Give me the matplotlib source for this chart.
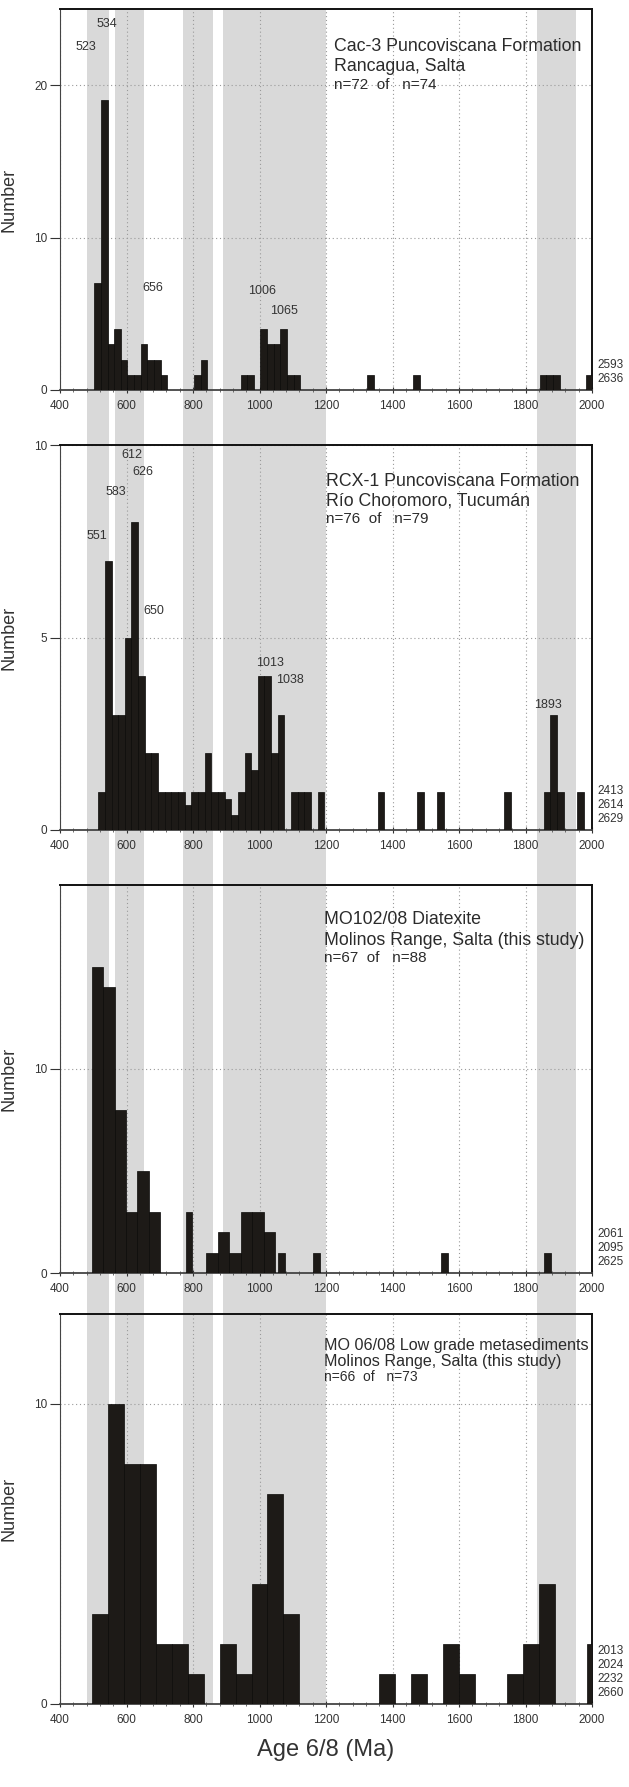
import numpy as np
import matplotlib
matplotlib.use("Agg")
import matplotlib.pyplot as plt
from matplotlib.ticker import MultipleLocator

plt.rcParams['font.family'] = ['Liberation Sans', 'DejaVu Sans']

# age bands shaded across all panels (Ma)
bands = [(482, 547), (564, 654), (769, 859), (890, 1199), (1836, 1951)]

# Cac-3 (bin width 20)
p1_left = [503, 523, 543, 563, 583, 603, 623, 643, 663, 683, 703, 803, 823, 943, 963,
           1003, 1023, 1043, 1063, 1083, 1103, 1323, 1463, 1843, 1863, 1883, 1983]
p1_count = [7, 19, 3, 4, 2, 1, 1, 3, 2, 2, 1, 1, 2, 1, 1,
            4, 3, 3, 4, 1, 1, 1, 1, 1, 1, 1, 1]
p1_width = 20

# RCX-1 (bin width 20)
p2_left = [515, 535, 555, 575, 595, 615, 635, 655, 675, 695, 715, 735, 755, 775, 795,
           815, 835, 855, 875, 895, 915, 935, 955, 975, 995, 1015, 1035, 1055, 1095,
           1115, 1135, 1175, 1355, 1475, 1535, 1735, 1855, 1875, 1895, 1955]
p2_count = [1, 7, 3, 3, 5, 8, 4, 2, 2, 1, 1, 1, 1, 0.65, 1,
            1, 2, 1, 1, 0.8, 0.4, 1, 2, 1.55, 4, 4, 2, 3, 1,
            1, 1, 1, 1, 1, 1, 1, 1, 3, 1, 1]
p2_width = 20

# MO102/08
p3_left = [495, 529.5, 564, 598.5, 633, 667.5, 778, 840, 874.5, 909, 943.5, 978, 1012.5,
           1056, 1162, 1547, 1857]
p3_count = [15, 14, 8, 3, 5, 3, 3, 1, 2, 1, 3, 3, 2, 1, 1, 1, 1]
p3_width = [34.5] * 6 + [20] + [34.5] * 6 + [20] * 4

# MO 06/08 (bin width 48)
p4_left = [496, 544, 592, 640, 688, 736, 784, 880, 928, 976, 1024, 1072,
           1360, 1456, 1552, 1600, 1744, 1792, 1840, 1984]
p4_count = [3, 10, 8, 8, 2, 2, 1, 2, 1, 4, 7, 3, 1, 1, 2, 1, 1, 2, 4, 2]
p4_width = 48

titles = [
    ("Cac-3 Puncoviscana Formation", "Rancagua, Salta", "n=72  of   n=74"),
    ("RCX-1 Puncoviscana Formation", "Río Choromoro, Tucumán", "n=76  of   n=79"),
    ("MO102/08 Diatexite", "Molinos Range, Salta (this study)", "n=67  of   n=88"),
    ("MO 06/08 Low grade metasediments", "Molinos Range, Salta (this study)", "n=66  of   n=73"),
]
extra_ages = [["2593", "2636"], ["2413", "2614", "2629"], ["2061", "2095", "2625"],
              ["2013", "2024", "2232", "2660"]]

p1_peaks = ["523", "534", "656", "1006", "1065"]
p1_peak_x = [477, 541, 679, 1008, 1075]
p1_peak_y = [22.5, 24.0, 6.7, 6.5, 5.2]
p2_peaks = ["612", "626", "583", "551", "650", "1013", "1038", "1893"]
p2_peak_x = [616, 649, 567, 512, 683, 1032, 1093, 1868]
p2_peak_y = [9.75, 9.3, 8.78, 7.63, 5.69, 4.35, 3.9, 3.24]

ylims = [25, 10, 19, 13]
yticks = [[0, 10, 20], [0, 5, 10], [0, 10], [0, 10]]
title_x = [0.515, 0.50, 0.497, 0.497]
title_y = [(0.902, 0.850, 0.800), (0.906, 0.854, 0.809), (0.91, 0.856, 0.811),
           (0.92, 0.877, 0.839)]
title_size = [12.8, 12.8, 12.8, 11.6]
count_size = [11, 11, 11, 10]

W, H = 629, 1787
fig = plt.figure(figsize=(W / 100, H / 100), dpi=100)

left = 60 / W
width = 532 / W
# (top, bottom) of each panel in pixels from top of figure
boxes = [(9, 390), (445, 830), (885, 1273), (1314, 1704)]

# background axes carrying the grey bands through all panels
bg = fig.add_axes([left, 1 - boxes[-1][1] / H, width, (boxes[-1][1] - boxes[0][0]) / H])
bg.set_xlim(400, 2000)
bg.set_ylim(0, 1)
bg.axis('off')
for a, b in bands:
    bg.axvspan(a, b, color='#d9d9d9', lw=0)

bar_col = '#1d1a17'
data = [(p1_left, p1_count, p1_width), (p2_left, p2_count, p2_width),
        (p3_left, p3_count, p3_width), (p4_left, p4_count, p4_width)]

axes = []
for i, (top, bot) in enumerate(boxes):
    ax = fig.add_axes([left, 1 - bot / H, width, (bot - top) / H])
    ax.set_facecolor('none')
    ax.set_axisbelow(True)
    lefts, counts, w = data[i]
    ax.bar(lefts, counts, width=w, align='edge', color=bar_col,
           edgecolor='#0a0908', linewidth=0.5, zorder=3)
    ax.set_xlim(400, 2000)
    ax.set_ylim(0, ylims[i])
    ax.set_xticks(np.arange(400, 2001, 200))
    ax.xaxis.set_minor_locator(MultipleLocator(40))
    ax.set_yticks(yticks[i])
    ax.tick_params(axis='x', which='major', direction='inout', length=5, width=0.8,
                   labelsize=8.5, pad=5, colors='#333333')
    ax.tick_params(axis='x', which='minor', direction='inout', length=3, width=0.6,
                   colors='#555555')
    ax.tick_params(axis='y', which='major', direction='out', length=7, width=0.8,
                   labelsize=8.5, pad=2, colors='#333333')
    ax.grid(True, which='major', linestyle=(0, (1, 2.5)), color='#9a9a9a', lw=0.8)
    for s in ['top', 'right']:
        ax.spines[s].set_linewidth(1.4)
        ax.spines[s].set_color('#111111')
    ax.spines['left'].set_linewidth(0.8)
    ax.spines['left'].set_color('#444444')
    ax.spines['bottom'].set_linewidth(1.3)
    ax.spines['bottom'].set_color('#444444')
    ax.set_ylabel("Number", fontsize=13, color='#333333')
    ax.yaxis.set_label_coords(-0.079, 0.5)

    t1, t2, t3 = titles[i]
    ty = title_y[i]
    ax.text(title_x[i], ty[0], t1, transform=ax.transAxes, fontsize=title_size[i],
            color='#2b2b2b', va='center', ha='left')
    ax.text(title_x[i], ty[1], t2, transform=ax.transAxes, fontsize=title_size[i],
            color='#2b2b2b', va='center', ha='left')
    ax.text(title_x[i], ty[2], t3, transform=ax.transAxes, fontsize=count_size[i],
            color='#2b2b2b', va='center', ha='left')

    ax.text(1.011, 0.012, "\n".join(extra_ages[i]), transform=ax.transAxes,
            fontsize=8.5, color='#333333', va='bottom', ha='left', linespacing=1.25)
    axes.append(ax)

for lab, x, y in zip(p1_peaks, p1_peak_x, p1_peak_y):
    axes[0].text(x, y, lab, fontsize=9, color='#333333', ha='center', va='center')
for lab, x, y in zip(p2_peaks, p2_peak_x, p2_peak_y):
    axes[1].text(x, y, lab, fontsize=9, color='#333333', ha='center', va='center')

fig.text(left + width / 2, 1 - 1750 / H, "Age 6/8 (Ma)", fontsize=17,
         color='#333333', ha='center', va='center')

fig.savefig("out.png", dpi=100)
